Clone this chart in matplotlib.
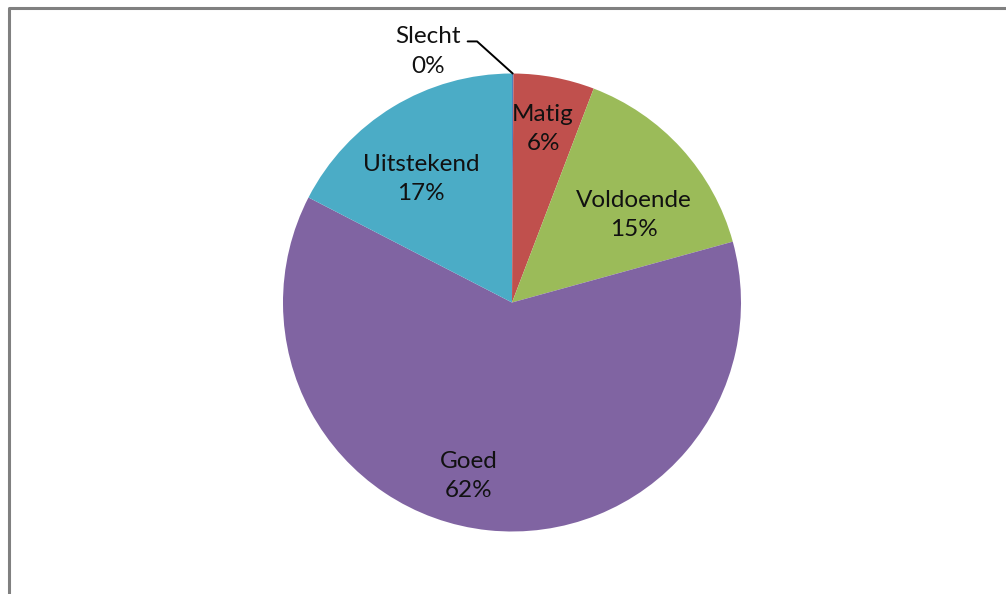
import numpy as np
import matplotlib.pyplot as plt
from matplotlib.lines import Line2D

plt.rcParams['font.family'] = ['Lato', 'DejaVu Sans']

# data
categories = ['Slecht', 'Matig', 'Voldoende', 'Goed', 'Uitstekend']
shares = [0.1, 5.7, 14.9, 61.8, 17.4]
pct_labels = ['0%', '6%', '15%', '62%', '17%']
colors = ['#4F81BD', '#C0504D', '#9BBB59', '#8064A2', '#4BACC6']

W, H = 1006, 594
fig = plt.figure(figsize=(W / 100, H / 100), dpi=100)

cx, cy, R = 512, 302.5, 229
ax = fig.add_axes([(cx - R) / W, (H - cy - R) / H, 2 * R / W, 2 * R / H])
wedges, _ = ax.pie(shares, colors=colors, startangle=90, counterclock=False,
                   radius=1, wedgeprops=dict(linewidth=0))
ax.set_xlim(-1, 1)
ax.set_ylim(-1, 1)
ax.set_aspect('equal')
ax.axis('off')

# label placement per slice: (angle offset deg, radial fraction)
label_pos = {'Matig': (0.5, 0.77), 'Voldoende': (-6.5, 0.655),
             'Goed': (-8, 0.78), 'Uitstekend': (5, 0.67)}
for w, cat, p in zip(wedges, categories, pct_labels):
    if cat not in label_pos:
        continue
    dang, r = label_pos[cat]
    mid = np.deg2rad((w.theta1 + w.theta2) / 2 + dang)
    ax.text(r * np.cos(mid), r * np.sin(mid), f'{cat}\n{p}', ha='center', va='center',
            fontsize=17.5, color='#111111', linespacing=1.5)

# Slecht: label outside with leader line
w0 = wedges[0]
a0 = np.deg2rad((w0.theta1 + w0.theta2) / 2)
tip = (np.cos(a0), np.sin(a0))
ax.annotate(f'{categories[0]}\n{pct_labels[0]}', xy=tip, xytext=(-0.367, 1.096),
            ha='center', va='center', fontsize=17.5, color='#111111', linespacing=1.5,
            annotation_clip=False,
            arrowprops=dict(arrowstyle='-', color='black', lw=1.4,
                            connectionstyle='angle,angleA=0,angleB=-42,rad=0',
                            shrinkA=3, shrinkB=0, relpos=(1.0, 0.7)))

# chart area border (left and top)
fig.add_artist(Line2D([8.5 / W, 8.5 / W, 1.0], [0.0, 1 - 7.5 / H, 1 - 7.5 / H],
                      transform=fig.transFigure, color='#808080', lw=2.2))

fig.savefig('out.png', dpi=100)
